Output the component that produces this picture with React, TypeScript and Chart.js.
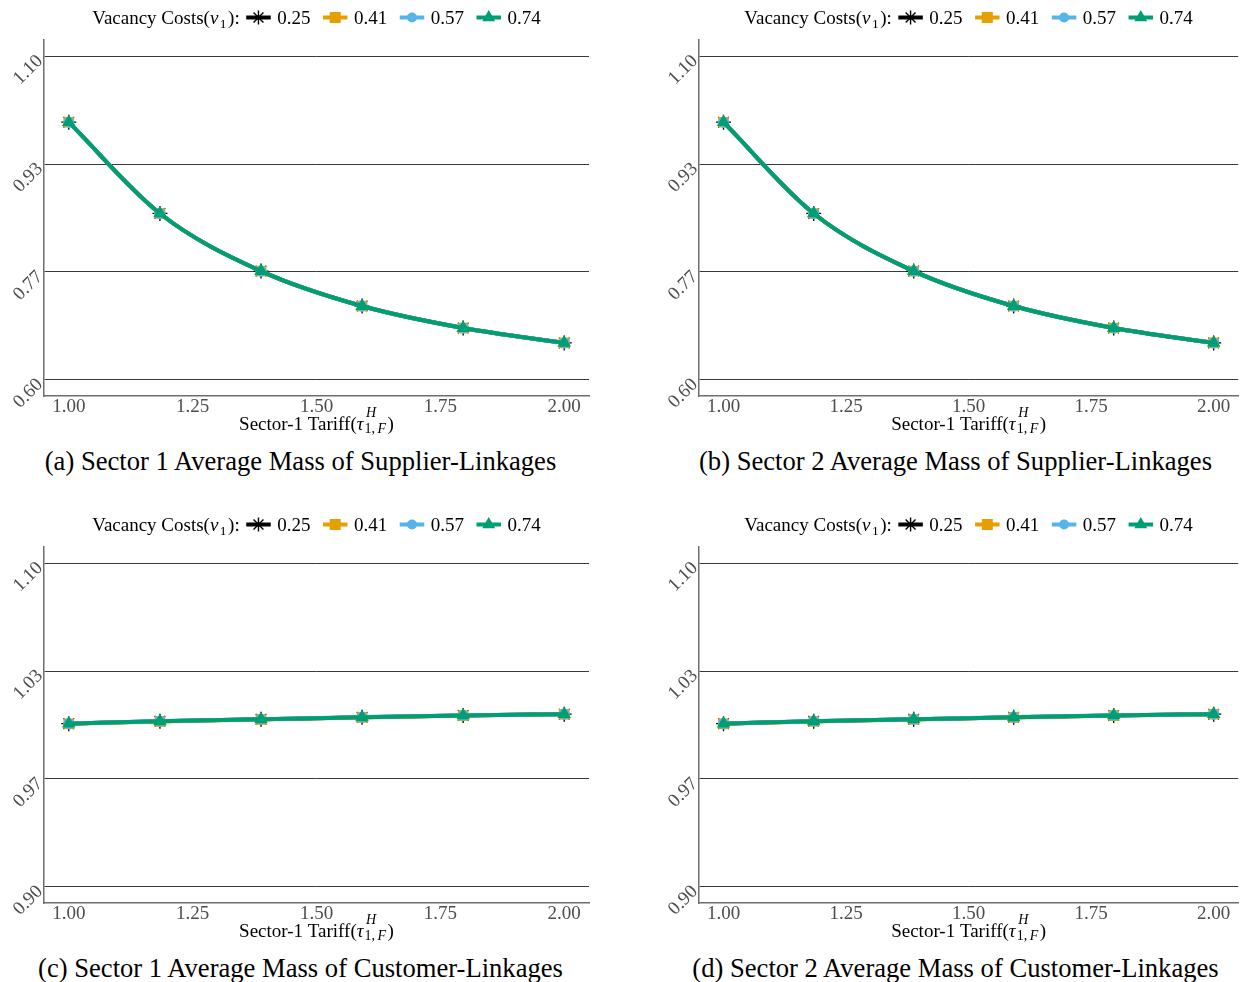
import React, { useEffect, useRef } from 'react';
import { Chart, registerables } from 'chart.js';

Chart.register(...registerables);

const FONT = '"Liberation Serif", "Times New Roman", Times, serif';

// x values (Sector-1 tariff) and axis ticks
const tariff = [1.0, 1.184, 1.388, 1.592, 1.796, 2.0];
const xTicks = [1.0, 1.25, 1.5, 1.75, 2.0];

// legend / series definitions
const vacancyCosts = ['0.25', '0.41', '0.57', '0.74'];
const seriesColors = ['#000000', '#E69F00', '#56B4E9', '#009E73'];
const seriesMarkers = ['star', 'rect', 'circle', 'triangle'];
const markerRadius = [7.5, 7.5, 5.5, 7.8];

// y tick values
const supplierYTicks = [0.6, 0.7667, 0.9333, 1.1];
const customerYTicks = [0.9, 0.9667, 1.0333, 1.1];

// (a) Sector 1 supplier linkages, one row per vacancy cost
const sector1Supplier = [
  [0.998, 0.857, 0.768, 0.714, 0.68, 0.657],
  [0.998, 0.857, 0.768, 0.714, 0.68, 0.657],
  [0.998, 0.857, 0.768, 0.714, 0.68, 0.657],
  [0.998, 0.857, 0.768, 0.714, 0.68, 0.657],
];
// (b) Sector 2 supplier linkages
const sector2Supplier = [
  [0.998, 0.857, 0.768, 0.714, 0.68, 0.657],
  [0.998, 0.857, 0.768, 0.714, 0.68, 0.657],
  [0.998, 0.857, 0.768, 0.714, 0.68, 0.657],
  [0.998, 0.857, 0.768, 0.714, 0.68, 0.657],
];
// (c) Sector 1 customer linkages
const sector1Customer = [
  [1.0008, 1.0023, 1.0035, 1.0048, 1.0059, 1.0067],
  [1.0007, 1.0022, 1.0034, 1.0047, 1.0058, 1.0066],
  [1.0009, 1.0024, 1.0036, 1.0049, 1.006, 1.0068],
  [1.0008, 1.0023, 1.0035, 1.0048, 1.0059, 1.0067],
];
// (d) Sector 2 customer linkages
const sector2Customer = [
  [1.0008, 1.0023, 1.0035, 1.0048, 1.0059, 1.0067],
  [1.0007, 1.0022, 1.0034, 1.0047, 1.0058, 1.0066],
  [1.0009, 1.0024, 1.0036, 1.0049, 1.006, 1.0068],
  [1.0008, 1.0023, 1.0035, 1.0048, 1.0059, 1.0067],
];

function drawMarker(ctx: CanvasRenderingContext2D, style: string, x: number, y: number, color: string) {
  ctx.save();
  ctx.fillStyle = color;
  ctx.strokeStyle = color;
  if (style === 'star') {
    const r = 7;
    ctx.lineWidth = 1.4;
    ctx.beginPath();
    for (let k = 0; k < 4; k++) {
      const a = (k * Math.PI) / 4;
      ctx.moveTo(x - r * Math.cos(a), y - r * Math.sin(a));
      ctx.lineTo(x + r * Math.cos(a), y + r * Math.sin(a));
    }
    ctx.stroke();
  } else if (style === 'rect') {
    const s = 5.5;
    ctx.fillRect(x - s, y - s, 2 * s, 2 * s);
  } else if (style === 'circle') {
    ctx.beginPath();
    ctx.arc(x, y, 5, 0, Math.PI * 2);
    ctx.fill();
  } else if (style === 'triangle') {
    const r = 7.5;
    ctx.beginPath();
    ctx.moveTo(x, y - r);
    ctx.lineTo(x + r * 0.866, y + r / 2);
    ctx.lineTo(x - r * 0.866, y + r / 2);
    ctx.closePath();
    ctx.fill();
  }
  ctx.restore();
}

function drawLegend(ctx: CanvasRenderingContext2D, cx: number, baseY: number, lineY: number) {
  const fs = 19;
  const normal = `${fs}px ${FONT}`;
  const italic = `italic ${fs}px ${FONT}`;
  const sub = `13.5px ${FONT}`;
  ctx.font = normal;
  const wA = ctx.measureText('Vacancy Costs(').width;
  ctx.font = italic;
  const wNu = ctx.measureText('ν').width;
  ctx.font = sub;
  const wSub = ctx.measureText('1').width;
  ctx.font = normal;
  const wB = ctx.measureText('):').width;
  const titleW = wA + wNu + 1.5 + wSub + 1.5 + wB;
  const labelWs = vacancyCosts.map((l) => ctx.measureText(l).width);
  const lineW = 24.5;
  const gapTitle = 6.5;
  const gapLabel = 6.5;
  const gapItem = 12.5;
  const total =
    titleW + gapTitle + labelWs.reduce((a, w) => a + lineW + gapLabel + w, 0) + gapItem * (labelWs.length - 1);
  let x = cx - total / 2;
  ctx.fillStyle = '#000';
  ctx.textAlign = 'left';
  ctx.textBaseline = 'alphabetic';
  ctx.font = normal;
  ctx.fillText('Vacancy Costs(', x, baseY);
  x += wA;
  ctx.font = italic;
  ctx.fillText('ν', x, baseY);
  x += wNu + 1.5;
  ctx.font = sub;
  ctx.fillText('1', x, baseY + 4);
  x += wSub + 1.5;
  ctx.font = normal;
  ctx.fillText('):', x, baseY);
  x += wB + gapTitle;
  vacancyCosts.forEach((lab, i) => {
    ctx.save();
    ctx.strokeStyle = seriesColors[i];
    ctx.lineWidth = 4;
    ctx.beginPath();
    ctx.moveTo(x, lineY);
    ctx.lineTo(x + lineW, lineY);
    ctx.stroke();
    ctx.restore();
    drawMarker(ctx, seriesMarkers[i], x + lineW / 2, lineY, seriesColors[i]);
    x += lineW + gapLabel;
    ctx.fillStyle = '#000';
    ctx.font = normal;
    ctx.fillText(lab, x, baseY);
    x += labelWs[i] + gapItem;
  });
}

function drawXTitle(ctx: CanvasRenderingContext2D, cx: number, base: number) {
  const fs = 19;
  const normal = `${fs}px ${FONT}`;
  const italic = `italic ${fs}px ${FONT}`;
  const small = `14px ${FONT}`;
  const smallIt = `italic 14px ${FONT}`;
  ctx.font = normal;
  const wA = ctx.measureText('Sector-1 Tariff(').width;
  const wP = ctx.measureText(')').width;
  ctx.font = italic;
  const wTau = ctx.measureText('τ').width;
  ctx.font = smallIt;
  const wH = ctx.measureText('H').width;
  const wF = ctx.measureText('F').width;
  ctx.font = small;
  const w1 = ctx.measureText('1,').width;
  const gapF = 2.5;
  const subW = w1 + gapF + wF;
  const scriptW = Math.max(wH, subW);
  const total = wA + wTau + 1 + scriptW + 1.5 + wP;
  let x = cx - total / 2;
  ctx.fillStyle = '#000';
  ctx.textAlign = 'left';
  ctx.textBaseline = 'alphabetic';
  ctx.font = normal;
  ctx.fillText('Sector-1 Tariff(', x, base);
  x += wA;
  ctx.font = italic;
  ctx.fillText('τ', x, base);
  x += wTau + 1;
  ctx.font = smallIt;
  ctx.fillText('H', x + 1.5, base - 13);
  ctx.font = small;
  ctx.fillText('1,', x, base + 3);
  ctx.font = smallIt;
  ctx.fillText('F', x + w1 + gapF, base + 3);
  x += scriptW + 1.5;
  ctx.font = normal;
  ctx.fillText(')', x, base);
}

const textPlugin = {
  id: 'panelText',
  afterDraw(chart: any) {
    const ctx = chart.ctx as CanvasRenderingContext2D;
    const area = chart.chartArea;
    const cx = (area.left + area.right) / 2;
    ctx.save();
    drawLegend(ctx, cx, 24, 17.5);
    drawXTitle(ctx, cx, area.bottom + 34);
    ctx.restore();
  },
};

type PanelProps = {
  left: number;
  top: number;
  width: number;
  rightPad: number;
  yMin: number;
  yMax: number;
  yTicks: number[];
  series: number[][];
  caption: string;
  captionX: number;
};

function Panel({ left, top, width, rightPad, yMin, yMax, yTicks, series, caption, captionX }: PanelProps) {
  const ref = useRef<HTMLCanvasElement | null>(null);
  const height = 440;
  useEffect(() => {
    if (!ref.current) return;
    const datasets = series.map((vals, i) => ({
      label: vacancyCosts[i],
      data: tariff.map((x, j) => ({ x, y: vals[j] })),
      borderColor: seriesColors[i],
      backgroundColor: seriesColors[i],
      borderWidth: 4,
      pointStyle: seriesMarkers[i] as any,
      pointRadius: markerRadius[i],
      pointBorderWidth: i === 0 ? 1.3 : 0,
      pointBorderColor: seriesColors[i],
      pointBackgroundColor: seriesColors[i],
      cubicInterpolationMode: 'monotone' as const,
      fill: false,
      order: 4 - i,
    }));
    const tickFont = { family: FONT, size: 19 };
    const chart = new Chart(ref.current, {
      type: 'line',
      data: { datasets },
      plugins: [textPlugin],
      options: {
        responsive: false,
        animation: false,
        events: [],
        layout: { padding: { top: 40, left: 0, right: rightPad, bottom: 0 } },
        plugins: {
          legend: { display: false },
          tooltip: { enabled: false },
          title: { display: false },
        },
        scales: {
          x: {
            type: 'linear',
            min: 0.95,
            max: 2.05,
            afterBuildTicks: (s: any) => {
              s.ticks = xTicks.map((v) => ({ value: v }));
            },
            afterFit: (s: any) => {
              s.height = 44;
            },
            grid: { display: false, drawTicks: false },
            border: { display: true, color: '#6e6e6e', width: 1.5 },
            ticks: {
              color: '#4D4D4D',
              font: tickFont,
              padding: 0,
              autoSkip: false,
              minRotation: 0,
              maxRotation: 0,
              callback: (v: any) => Number(v).toFixed(2),
            },
          },
          y: {
            type: 'linear',
            min: yMin,
            max: yMax,
            afterBuildTicks: (s: any) => {
              s.ticks = yTicks.map((v) => ({ value: v }));
            },
            afterFit: (s: any) => {
              s.width = 44;
            },
            grid: { display: true, color: '#3a3a3a', lineWidth: 1, drawTicks: false },
            border: { display: true, color: '#6e6e6e', width: 1.5 },
            ticks: {
              color: '#4D4D4D',
              font: tickFont,
              padding: 4,
              labelOffset: 2,
              minRotation: 45,
              maxRotation: 45,
              callback: (v: any) => Number(v).toFixed(2),
            },
          },
        },
      } as any,
    });
    return () => chart.destroy();
  }, []);
  return (
    <>
      <canvas
        ref={ref}
        width={width}
        height={height}
        style={{ position: 'absolute', left, top, width, height, display: 'block' }}
      />
      <div
        style={{
          position: 'absolute',
          left: captionX,
          top: top + 448,
          transform: 'translateX(-50%)',
          whiteSpace: 'nowrap',
          fontFamily: FONT,
          fontSize: '26.6px',
          lineHeight: '26px',
          color: '#000',
        }}
      >
        {caption}
      </div>
    </>
  );
}

export default function App() {
  return (
    <div
      style={{
        position: 'absolute',
        left: 0,
        top: 0,
        width: 1247,
        height: 982,
        overflow: 'hidden',
        background: '#ffffff',
      }}
    >
      <Panel
        left={0}
        top={0}
        width={620}
        rightPad={31}
        yMin={0.575}
        yMax={1.125}
        yTicks={supplierYTicks}
        series={sector1Supplier}
        caption="(a) Sector 1 Average Mass of Supplier-Linkages"
        captionX={300.5}
      />
      <Panel
        left={655}
        top={0}
        width={592}
        rightPad={3}
        yMin={0.575}
        yMax={1.125}
        yTicks={supplierYTicks}
        series={sector2Supplier}
        caption="(b) Sector 2 Average Mass of Supplier-Linkages"
        captionX={955.5}
      />
      <Panel
        left={0}
        top={507}
        width={620}
        rightPad={31}
        yMin={0.89}
        yMax={1.11}
        yTicks={customerYTicks}
        series={sector1Customer}
        caption="(c) Sector 1 Average Mass of Customer-Linkages"
        captionX={300.5}
      />
      <Panel
        left={655}
        top={507}
        width={592}
        rightPad={3}
        yMin={0.89}
        yMax={1.11}
        yTicks={customerYTicks}
        series={sector2Customer}
        caption="(d) Sector 2 Average Mass of Customer-Linkages"
        captionX={955.5}
      />
    </div>
  );
}
